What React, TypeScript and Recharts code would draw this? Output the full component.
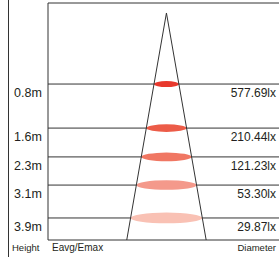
import React from "react";
import { ComposedChart, Bar, Line, XAxis, YAxis, CartesianGrid, Cell, Label, ReferenceLine } from "recharts";

// Mounting heights shown in the diagram, with the average illuminance at each
const heightLabels = ["0.8m", "1.6m", "2.3m", "3.1m", "3.9m"];
const illuminanceLx = [577.69, 210.44, 121.23, 53.3, 29.87];
// Schematic level of each height row in the diagram (lamp apex = 0, floor = 100)
const rowLevels = [31.3, 50.7, 63.4, 75.8, 90.3];
const apexLevel = 0;
const floorLevel = 100;
// tan(half beam angle) of the drawn light cone
const beamHalfSlope = 0.175;

const columnHeaders = ["Height", "Eavg/Emax", "Diameter"];

// ---- styles ----
const FONT = "'Liberation Sans', Arial, Helvetica, sans-serif";
const TEXT = "#231f20";
const LINE = "#333333";
const spotColors = ["#e8392d", "#ec5c48", "#f07763", "#f4998b", "#f9c1b4"];
const TOP_LEVEL = -4.4;
const X_DOMAIN: [number, number] = [-52.2, 49.6];

const spots = rowLevels.map((level, i) => ({
  level,
  span: [-level * beamHalfSlope, level * beamHalfSlope],
  height: heightLabels[i],
  lux: illuminanceLx[i],
}));

const cone = [
  { level: floorLevel, x: -floorLevel * beamHalfSlope },
  { level: apexLevel, x: 0 },
  { level: floorLevel, x: floorLevel * beamHalfSlope },
];

const yTicks = [TOP_LEVEL, ...rowLevels, floorLevel];

const LeftTick = (props: any) => {
  const { x, y, payload } = props;
  const i = rowLevels.indexOf(payload.value);
  if (i < 0) return <g />;
  return (
    <text x={x - 34} y={y + 13} fontSize={12.5} fill={TEXT} fontFamily={FONT} textAnchor="start">
      {heightLabels[i]}
    </text>
  );
};

const makeLuxLabel = (text: string) => (props: any) => {
  const vb = props.viewBox || { x: 0, y: 0, width: 0 };
  return (
    <text x={vb.x + vb.width - 3} y={vb.y + 13} fontSize={12} fill={TEXT} fontFamily={FONT} textAnchor="end">
      {text}
    </text>
  );
};

const Spot = (props: any) => {
  const { x, y, width, height, index } = props;
  const w = Math.abs(width);
  return (
    <ellipse
      cx={x + width / 2}
      cy={y + height / 2}
      rx={w / 2}
      ry={1.8 + 0.05 * w}
      fill={spotColors[index] ?? props.fill}
    />
  );
};

const BottomLabels = (props: any) => {
  const vb = props.viewBox || { x: 48, y: 240, width: 231, height: 17 };
  const base = vb.y + 11;
  return (
    <g fontFamily={FONT} fontSize={9.5} fill={TEXT}>
      <text x={vb.x - 36} y={base} textAnchor="start">{columnHeaders[0]}</text>
      <text x={vb.x + 4} y={base} textAnchor="start" fontSize={10}>{columnHeaders[1]}</text>
      <text x={vb.x + vb.width - 3} y={base} textAnchor="end">{columnHeaders[2]}</text>
    </g>
  );
};

export default function App() {
  return (
    <div style={{ position: "absolute", left: 0, top: 0, width: 279, height: 257, background: "#fff", overflow: "hidden" }}>
      <div style={{ position: "absolute", left: 8, top: 0, width: 1, height: 257, background: LINE }} />
      <div style={{ position: "absolute", left: 0, top: 0 }}>
        <ComposedChart
          layout="vertical"
          width={279}
          height={257}
          data={spots}
          margin={{ top: 3, right: 0, bottom: 0, left: 0 }}
        >
          <CartesianGrid horizontal vertical={false} stroke={LINE} strokeWidth={1} />
          <XAxis
            type="number"
            domain={X_DOMAIN}
            allowDataOverflow
            height={17}
            axisLine={false}
            tickLine={false}
            tick={false}
          >
            <Label content={BottomLabels} />
          </XAxis>
          <YAxis
            type="number"
            dataKey="level"
            domain={[TOP_LEVEL, floorLevel]}
            allowDataOverflow
            ticks={yTicks}
            interval={0}
            width={48}
            tick={<LeftTick />}
            tickLine={false}
            tickSize={0}
            tickMargin={0}
            axisLine={{ stroke: LINE }}
          />
          <Bar dataKey="span" barSize={14} isAnimationActive={false} shape={<Spot />}>
            {spots.map((s, i) => (
              <Cell key={s.height} fill={spotColors[i]} />
            ))}
          </Bar>
          <Line
            data={cone}
            dataKey="x"
            stroke={LINE}
            strokeWidth={1}
            dot={false}
            activeDot={false}
            isAnimationActive={false}
          />
          {spots.map((s) => (
            <ReferenceLine
              key={"lux" + s.height}
              y={s.level}
              stroke="none"
              label={makeLuxLabel(s.lux.toFixed(2) + "lx")}
            />
          ))}
        </ComposedChart>
      </div>
    </div>
  );
}
